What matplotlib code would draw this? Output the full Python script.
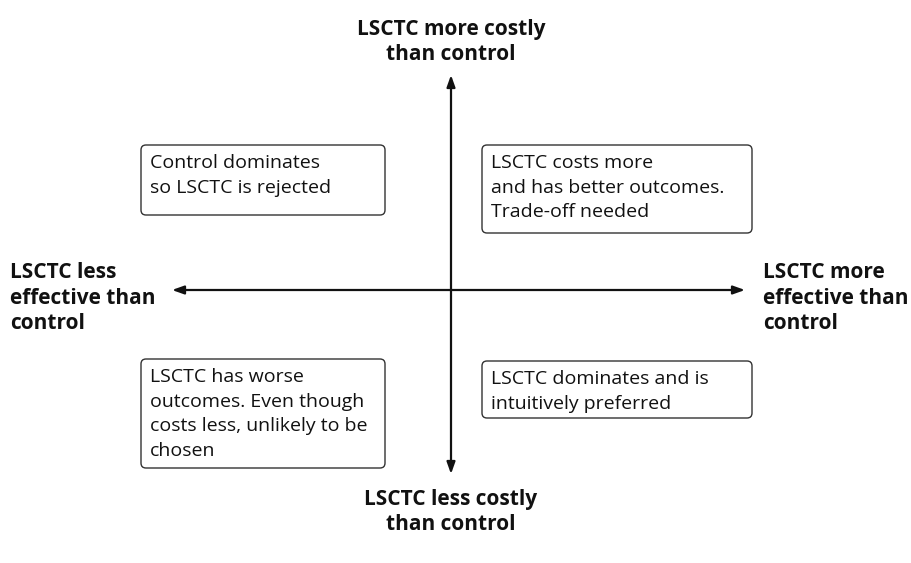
import matplotlib.pyplot as plt
from matplotlib.patches import FancyBboxPatch

plt.rcParams['font.family'] = ['Open Sans', 'DejaVu Sans']

# axis labels (top, bottom, left, right)
axis_labels = ['LSCTC more costly\nthan control',
               'LSCTC less costly\nthan control',
               'LSCTC less\neffective than\ncontrol',
               'LSCTC more\neffective than\ncontrol']

# quadrant texts (top-left, top-right, bottom-left, bottom-right)
quad_texts = ['Control dominates\nso LSCTC is rejected',
              'LSCTC costs more\nand has better outcomes.\nTrade-off needed',
              'LSCTC has worse\noutcomes. Even though\ncosts less, unlikely to be\nchosen',
              'LSCTC dominates and is\nintuitively preferred']

W, H = 911, 563
fig = plt.figure(figsize=(W / 100, H / 100), dpi=100)
ax = fig.add_axes([0, 0, 1, 1])
ax.set_xlim(0, W)
ax.set_ylim(H, 0)
ax.axis('off')

# layout (pixel coords)
cx, cy = 451, 290
box_pos = [(141, 145, 244, 70), (482, 145, 270, 88),
           (141, 359, 244, 109), (482, 361, 270, 57)]
lbl_font = dict(fontsize=15, fontweight='bold', color='#111111', linespacing=1.28)
box_font = dict(fontsize=14, color='#111111', linespacing=1.47)

arr = dict(arrowstyle='<|-|>,head_length=0.7,head_width=0.25', lw=1.6, color='#111111',
           shrinkA=0, shrinkB=0)
ax.annotate('', xy=(cx, 75), xytext=(cx, 474), arrowprops=arr)
ax.annotate('', xy=(172, cy), xytext=(745, cy), arrowprops=arr)

ax.text(cx, 42, axis_labels[0], ha='center', va='center', **lbl_font)
ax.text(cx, 512, axis_labels[1], ha='center', va='center', **lbl_font)
ax.text(10, 298, axis_labels[2], ha='left', va='center', **lbl_font)
ax.text(763, 298, axis_labels[3], ha='left', va='center', **lbl_font)

for (x, y, w, h), txt in zip(box_pos, quad_texts):
    ax.add_patch(FancyBboxPatch((x, y), w, h, boxstyle='round,pad=0,rounding_size=5',
                                fc='white', ec='#333333', lw=1.0))
    ax.text(x + 9, y + 9, txt, ha='left', va='top', **box_font)

fig.savefig('out.png', dpi=100)
